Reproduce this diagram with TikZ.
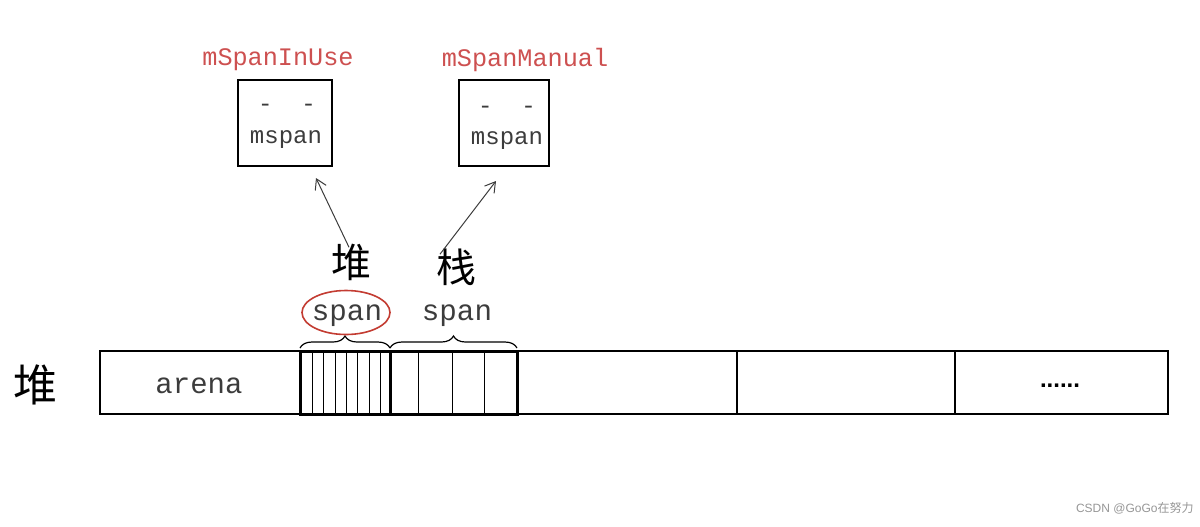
\documentclass[tikz,border=0pt]{standalone}
\usepackage{fontspec}
\setmainfont{Liberation Serif}
\setmonofont{Liberation Mono}
\newfontfamily\cjk{Noto Sans CJK SC}
\newfontfamily\sansf{Liberation Sans}
\usetikzlibrary{shapes.geometric,decorations.pathreplacing,arrows.meta}
\definecolor{lblred}{RGB}{205,80,80}
\definecolor{ellred}{RGB}{195,60,50}
\definecolor{wmgray}{RGB}{150,150,150}
\definecolor{txtgray}{RGB}{60,60,60}
\tikzset{
  cellbox/.style={draw, line width=1pt, inner sep=0pt, outer sep=0pt, minimum height=31.5pt},
  spanbox/.style={draw, line width=1.5pt, inner sep=0pt, outer sep=0pt, minimum height=31.5pt},
  membox/.style={draw, line width=1pt, inner sep=0pt, minimum width=47pt, minimum height=43pt},
  monotxt/.style={font=\ttfamily\fontsize{12}{14}\selectfont, text=txtgray, inner sep=0pt},
  redlbl/.style={font=\ttfamily\fontsize{12.6}{14}\selectfont, text=lblred, inner sep=0pt},
  spantxt/.style={font=\ttfamily\fontsize{14.6}{16}\selectfont, text=txtgray, inner sep=0pt},
  cjktxt/.style={font=\cjk\fontsize{20}{22}\selectfont, inner sep=0pt},
  arr/.style={-{Straight Barb[length=5pt,width=6pt]}, line width=0.5pt, draw=txtgray},
  thin/.style={line width=0.5pt},
  bracest/.style={decorate, decoration={brace, amplitude=6pt}, line width=0.6pt}
}
\begin{document}
\begin{tikzpicture}[x=0.5pt,y=-0.5pt]
\useasboundingbox (0,0) rectangle (1200,526);
% left label
\node[cjktxt, font=\cjk\fontsize{22}{24}\selectfont] (heapl) at (35,385) {堆};
% bar cells
\node[cellbox, minimum width=100pt] (arena) at (200,382.5) {};
\node[monotxt, font=\ttfamily\fontsize{14.5}{16}\selectfont] (arenat) at (199,386) {arena};
\node[cellbox, minimum width=110pt] (c4) at (627,382.5) {};
\node[cellbox, minimum width=109pt] (c5) at (846,382.5) {};
\node[cellbox, minimum width=106.5pt] (c6) at (1061.5,382.5) {};
\node[font=\sansf\bfseries\fontsize{12}{14}\selectfont, inner sep=0pt] (dots) at (1060,386) {......};
% span regions
\node[spanbox, minimum width=45pt] (s1) at (345,382.5) {};
\node[spanbox, minimum width=63.5pt] (s2) at (453.5,382.5) {};
\foreach \x in {312,323,335,346,357,369,380}{
  \draw[thin] (\x,351) -- (\x,414);
}
\foreach \x in {418,452,484}{
  \draw[thin] (\x,351) -- (\x,414);
}
% braces
\draw[bracest] ([yshift=1.5pt]s1.north west) -- ([yshift=1.5pt]s1.north east);
\draw[bracest] ([yshift=1.5pt]s2.north west) -- ([yshift=1.5pt]s2.north east);
% span labels
\node[spantxt] (sp1) at (347,316) {span};
\node[draw=ellred, line width=0.8pt, ellipse, minimum width=44pt, minimum height=22pt] (ell) at (346,312.5) {};
\node[spantxt] (sp2) at (457,316) {span};
% heap / stack labels
\node[cjktxt] (dui) at (351,262) {堆};
\node[cjktxt] (zhan) at (456,267) {栈};
% memory boxes
\node[membox] (inuse) at (285,123) {};
\node[monotxt] (d1) at (287,108) {-~~-};
\node[monotxt] (m1) at (286,140) {mspan};
\node[redlbl] (l1) at (278,60) {mSpanInUse};
\node[membox, minimum width=45pt] (manual) at (504,123) {};
\node[monotxt] (d2) at (507,110) {-~~-};
\node[monotxt] (m2) at (507,141) {mspan};
\node[redlbl] (l2) at (525,60) {mSpanManual};
% arrows
\coordinate (a1e) at (316,178);
\coordinate (a2e) at (496,181);
\draw[arr] ([xshift=-1pt,yshift=-2pt]dui.north) -- (a1e);
\draw[arr] ([xshift=-8pt,yshift=-3pt]zhan.north) -- (a2e);
% watermark
\node[font=\sansf\fontsize{6}{7}\selectfont, text=wmgray, inner sep=0pt, anchor=east] (wm) at (1194,508) {CSDN @GoGo{\cjk 在努力}};
\end{tikzpicture}
\end{document}
